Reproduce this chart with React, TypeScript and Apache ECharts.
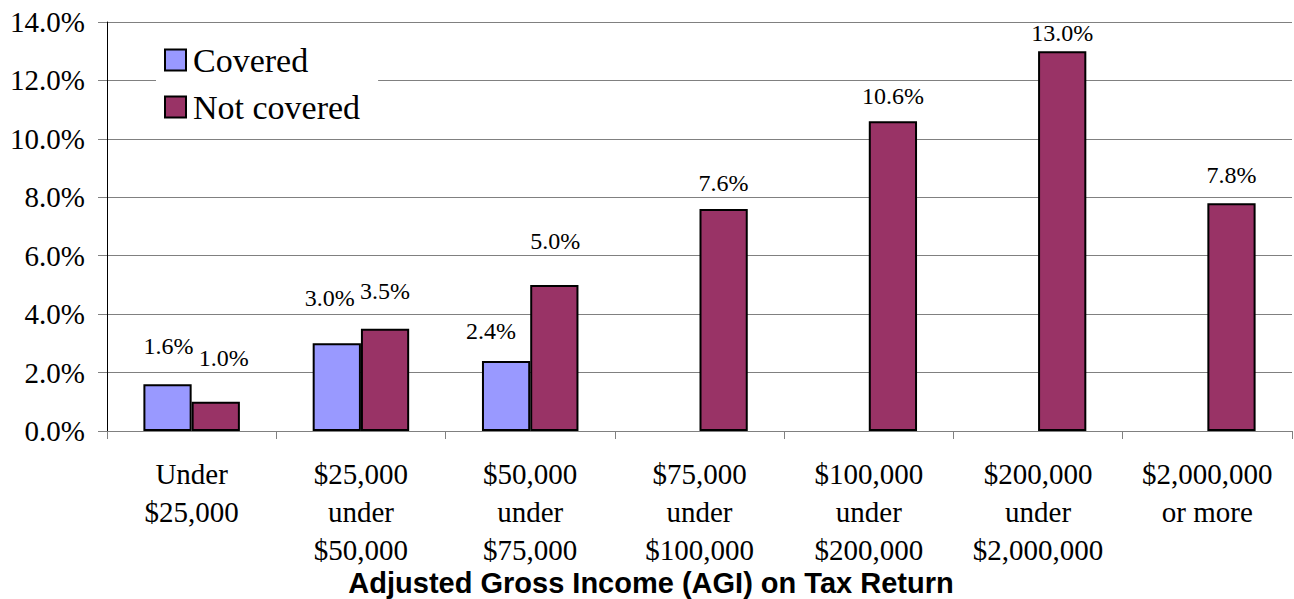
import React, { useEffect, useRef } from "react";
import * as echarts from "echarts";

const categories = [
  "Under\n$25,000",
  "$25,000\nunder\n$50,000",
  "$50,000\nunder\n$75,000",
  "$75,000\nunder\n$100,000",
  "$100,000\nunder\n$200,000",
  "$200,000\nunder\n$2,000,000",
  "$2,000,000\nor more",
];
const covered: (number | null)[] = [1.6, 3.0, 2.4, null, null, null, null];
const notCovered: number[] = [1.0, 3.5, 5.0, 7.6, 10.6, 13.0, 7.8];
const yTicks = { min: 0, max: 14, interval: 2 };
const xAxisTitle = "Adjusted Gross Income (AGI) on Tax Return";

// label nudges (styling only) to mimic the source's label placement
const coveredLabelNudge = [[1, -21], [-7, -28], [-15, -13], [0, 0], [0, 0], [0, 0], [0, 0]];
const notCoveredLabelNudge = [[8, -27], [0, -21], [1, -27], [0, -9], [0, -8], [0, -1], [0, -11]];

const SERIF = "Liberation Serif";

export default function App() {
  const ref = useRef<HTMLDivElement>(null);
  useEffect(() => {
    if (!ref.current) return;
    const chart = echarts.init(ref.current, undefined, { renderer: "svg" });
    const fmt = (v: number) => v.toFixed(1) + "%";
    const labelBase = {
      show: true,
      position: "top",
      distance: 5,
      fontFamily: SERIF,
      fontSize: 24,
      color: "#000",
      formatter: (p: any) => fmt(p.value),
    };
    chart.setOption({
      animation: false,
      backgroundColor: "#fff",
      textStyle: { fontFamily: SERIF },
      grid: { left: 107, right: 2, top: 22, bottom: 168, containLabel: false },
      legend: {
        orient: "vertical",
        left: 156,
        top: 37,
        backgroundColor: "#fff",
        padding: [6, 18, 6, 8],
        itemWidth: 21,
        itemHeight: 21,
        itemGap: 13,
        icon: "rect",
        itemStyle: { borderColor: "#000", borderWidth: 2 },
        formatter: (name: string) => "{t|" + name + "}",
        textStyle: {
          fontFamily: SERIF,
          fontSize: 34,
          color: "#000",
          rich: { t: { fontFamily: SERIF, fontSize: 34, color: "#000", padding: [0, 0, 0, 2] } },
        },
        data: ["Covered", "Not covered"],
      },
      graphic: [
        {
          type: "text",
          x: 651,
          y: 583,
          style: {
            text: xAxisTitle,
            fontFamily: "Liberation Sans",
            fontWeight: "bold",
            fontSize: 29,
            fill: "#000",
            textAlign: "center",
            textVerticalAlign: "middle",
          },
        },
      ],
      xAxis: {
        type: "category",
        data: categories,
        axisLine: { lineStyle: { color: "#808080", width: 1 } },
        axisTick: { show: true, length: 8, lineStyle: { color: "#808080" } },
        axisLabel: {
          fontFamily: SERIF,
          fontSize: 29,
          color: "#000",
          lineHeight: 38,
          margin: 24,
          interval: 0,
        },
      },
      yAxis: {
        type: "value",
        min: yTicks.min,
        max: yTicks.max,
        interval: yTicks.interval,
        axisLine: { show: true, lineStyle: { color: "#000", width: 1 } },
        axisTick: { show: true, length: 9, lineStyle: { color: "#808080" } },
        splitLine: { show: true, lineStyle: { color: "#808080", width: 1 } },
        axisLabel: { fontFamily: SERIF, fontSize: 29, color: "#000", margin: 22, formatter: fmt },
      },
      series: [
        {
          name: "Covered",
          type: "bar",
          barGap: "0%",
          barCategoryGap: "43%",
          itemStyle: { color: "#9999FF", borderColor: "#000", borderWidth: 2 },
          data: covered.map((v, i) => ({
            value: v,
            label: { ...labelBase, offset: coveredLabelNudge[i] },
          })),
        },
        {
          name: "Not covered",
          type: "bar",
          barGap: "0%",
          barCategoryGap: "43%",
          itemStyle: { color: "#993366", borderColor: "#000", borderWidth: 2 },
          data: notCovered.map((v, i) => ({
            value: v,
            label: { ...labelBase, offset: notCoveredLabelNudge[i] },
          })),
        },
      ],
    });
    return () => chart.dispose();
  }, []);
  return (
    <div
      ref={ref}
      style={{ position: "fixed", left: 0, top: 0, width: 1294, height: 599, background: "#fff" }}
    />
  );
}
